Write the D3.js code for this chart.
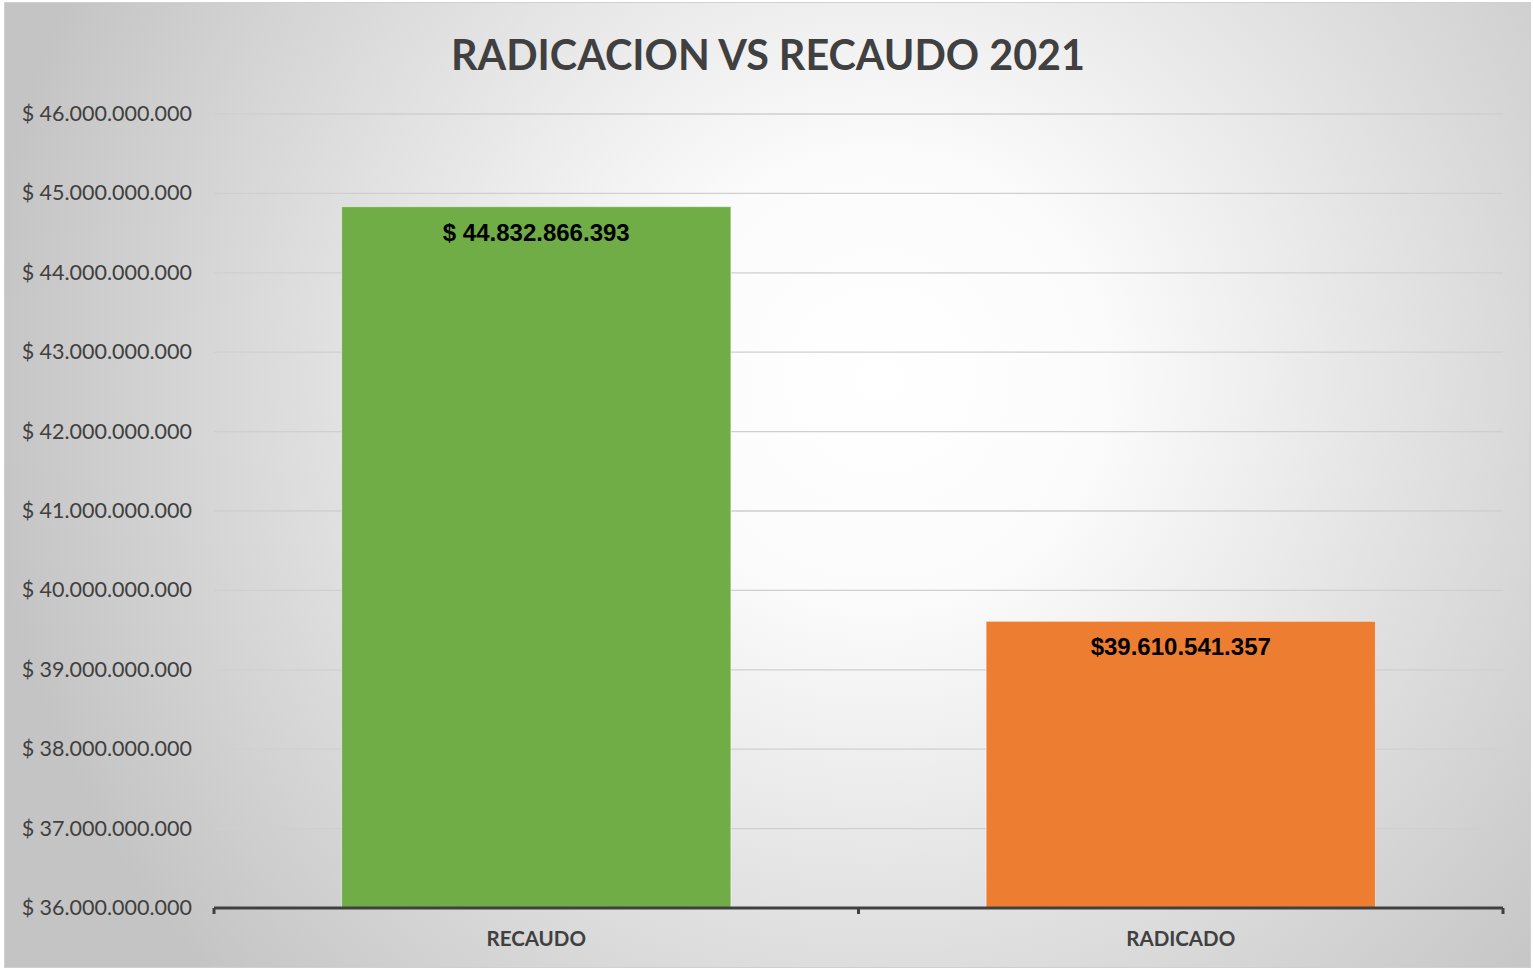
<!DOCTYPE html>
<html>
<head>
<meta charset="utf-8">
<script src="https://cdn.jsdelivr.net/npm/d3@7"></script>
<style>
  body { margin: 0; background: #fff; }
  svg { display: block; }
</style>
</head>
<body>
<div id="chart"></div>
<script>
// data
const categories = ['RECAUDO', 'RADICADO']
const values = [44832866393, 39610541357]
const valueLabels = ['$ 44.832.866.393', '$39.610.541.357']
const barColors = ['#70ad47', '#ed7d31']
const yTicks = [36e9, 37e9, 38e9, 39e9, 40e9, 41e9, 42e9, 43e9, 44e9, 45e9, 46e9]

const width = 1533
const height = 970
const margin = { top: 114, right: 30, bottom: 62, left: 214 }

const svg = d3.select('#chart')
  .append('svg')
  .attr('width', width)
  .attr('height', height)

// background gradient
const defs = svg.append('defs')
const grad = defs.append('radialGradient')
  .attr('id', 'bg')
  .attr('gradientUnits', 'userSpaceOnUse')
  .attr('cx', 880).attr('cy', 380).attr('r', 900)
grad.append('stop').attr('offset', '0%').attr('stop-color', '#ffffff')
grad.append('stop').attr('offset', '25%').attr('stop-color', '#fbfbfb')
grad.append('stop').attr('offset', '100%').attr('stop-color', '#c4c4c4')

svg.append('rect')
  .attr('x', 4.5).attr('y', 2.5)
  .attr('width', 1526).attr('height', 965)
  .attr('fill', 'url(#bg)')
  .attr('stroke', '#d0d0d0')
  .attr('stroke-width', 1)

const x = d3.scaleBand()
  .domain(categories)
  .range([margin.left, width - margin.right])
  .paddingInner(0.396)
  .paddingOuter(0.198)

const y = d3.scaleLinear()
  .domain([36e9, 46e9])
  .range([height - margin.bottom, margin.top])

// gridlines
svg.append('g')
  .selectAll('line')
  .data(yTicks.slice(1))
  .enter()
  .append('line')
  .attr('x1', margin.left)
  .attr('x2', width - margin.right)
  .attr('y1', d => y(d))
  .attr('y2', d => y(d))
  .attr('stroke', '#cfcfcf')
  .attr('stroke-width', 1.3)

// y labels
const fmt = d => '$ ' + d3.format(',')(d).replace(/,/g, '.')
svg.append('g')
  .selectAll('text')
  .data(yTicks)
  .enter()
  .append('text')
  .attr('x', 192)
  .attr('y', d => y(d) + 7)
  .attr('text-anchor', 'end')
  .attr('font-family', 'Lato, sans-serif')
  .attr('font-size', '21.5px')
  .attr('fill', '#404040')
  .text(fmt)

// bars
svg.append('g')
  .selectAll('rect')
  .data(values)
  .enter()
  .append('rect')
  .attr('x', (d, i) => x(categories[i]))
  .attr('y', d => y(d))
  .attr('width', x.bandwidth())
  .attr('height', d => y(36e9) - y(d))
  .attr('fill', (d, i) => barColors[i])
  .attr('stroke', '#ffffff')
  .attr('stroke-opacity', 0.5)
  .attr('stroke-width', 1)

// value labels
svg.append('g')
  .selectAll('text')
  .data(values)
  .enter()
  .append('text')
  .attr('x', (d, i) => x(categories[i]) + x.bandwidth() / 2)
  .attr('y', d => y(d) + 34)
  .attr('text-anchor', 'middle')
  .attr('font-family', 'Arial, "Liberation Sans", sans-serif')
  .attr('font-weight', 'bold')
  .attr('font-size', '24px')
  .attr('fill', '#000')
  .text((d, i) => valueLabels[i])

// x axis
const axisY = y(36e9)
svg.append('line')
  .attr('x1', margin.left)
  .attr('x2', width - margin.right)
  .attr('y1', axisY)
  .attr('y2', axisY)
  .attr('stroke', '#404040')
  .attr('stroke-width', 3)

const tickXs = [margin.left, (margin.left + width - margin.right) / 2, width - margin.right]
svg.append('g')
  .selectAll('line')
  .data(tickXs)
  .enter()
  .append('line')
  .attr('x1', d => d)
  .attr('x2', d => d)
  .attr('y1', axisY)
  .attr('y2', axisY + 6)
  .attr('stroke', '#404040')
  .attr('stroke-width', 3)

svg.append('g')
  .selectAll('text')
  .data(categories)
  .enter()
  .append('text')
  .attr('x', d => x(d) + x.bandwidth() / 2)
  .attr('y', axisY + 38)
  .attr('text-anchor', 'middle')
  .attr('font-family', 'Lato, sans-serif')
  .attr('font-weight', 'bold')
  .attr('font-size', '20.5px')
  .attr('fill', '#404040')
  .text(d => d)

// title
svg.append('text')
  .attr('x', 768)
  .attr('y', 70)
  .attr('text-anchor', 'middle')
  .attr('font-family', 'Lato, sans-serif')
  .attr('font-weight', 'bold')
  .attr('font-size', '41.3px')
  .attr('fill', '#404040')
  .text('RADICACION VS RECAUDO 2021')
</script>
</body>
</html>
